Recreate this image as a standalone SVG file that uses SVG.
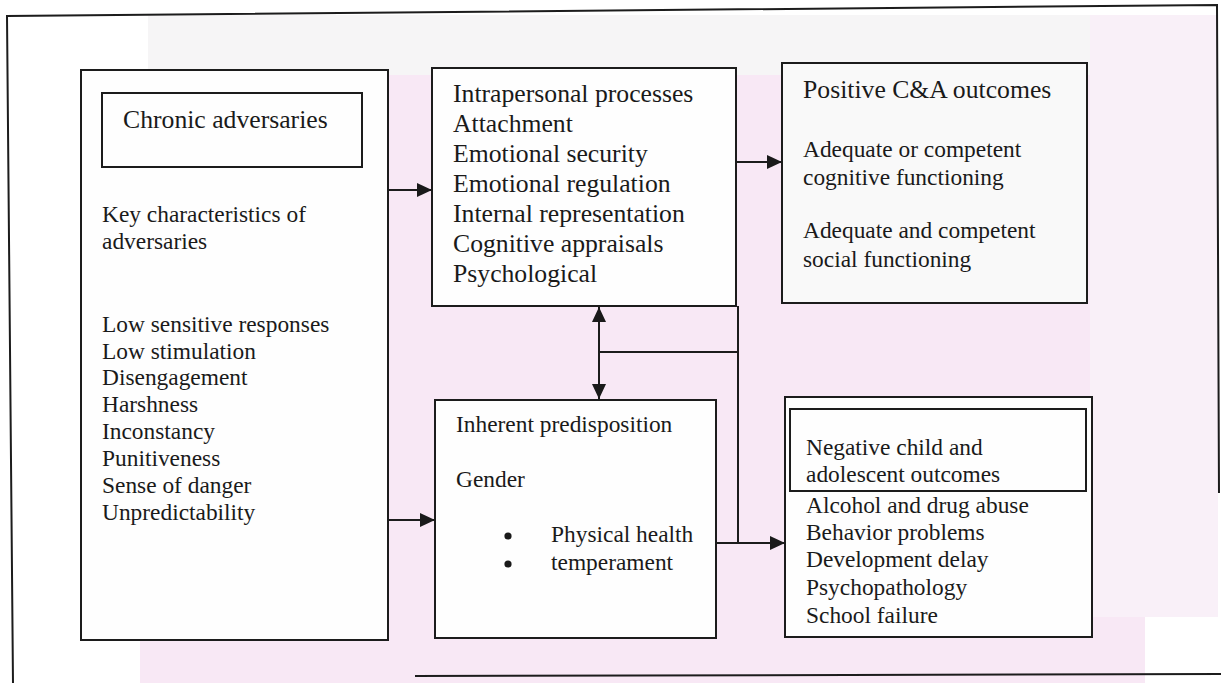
<svg xmlns="http://www.w3.org/2000/svg" width="1221" height="683" viewBox="0 0 1221 683">
<defs>
<marker id="ah" markerUnits="userSpaceOnUse" markerWidth="16" markerHeight="14" refX="15" refY="7" orient="auto-start-reverse">
<path d="M0,0 L15,7 L0,14 z" fill="#1a1a1a"/>
</marker>
</defs>
<style>
.box{fill:#fefefe;stroke:#1c1c1c;stroke-width:2}
.ln{fill:none;stroke:#1c1c1c;stroke-width:2}
text{font-family:"Liberation Serif","Times New Roman",serif;fill:#1a1a1a}
.h{font-size:25.7px}
.t{font-size:23.4px}
</style>
<rect x="0" y="0" width="1221" height="683" fill="#ffffff"/>
<rect x="148" y="15" width="960" height="60" fill="#f6f5f6"/>
<rect x="140" y="75" width="1005" height="608" fill="#f8e8f5"/>
<rect x="1090" y="15" width="128" height="602" fill="#f9f0f8"/>
<g id="frame" class="ln">
<path d="M13,683 L7,16 L1217,5 L1219,493"/>
<path d="M415,676 L1221,674"/>
</g>
<g id="left">
<rect class="box" x="81" y="70" width="307" height="570"/>
<rect class="box" x="102" y="93" width="260" height="74"/>
<text class="h" x="123" y="128">Chronic adversaries</text>
<text class="t" x="102" y="222">Key characteristics of</text>
<text class="t" x="102" y="249">adversaries</text>
<text class="t" x="102" y="332">Low sensitive responses</text>
<text class="t" x="102" y="358.5">Low stimulation</text>
<text class="t" x="102" y="385">Disengagement</text>
<text class="t" x="102" y="412">Harshness</text>
<text class="t" x="102" y="439">Inconstancy</text>
<text class="t" x="102" y="466">Punitiveness</text>
<text class="t" x="102" y="493">Sense of danger</text>
<text class="t" x="102" y="520">Unpredictability</text>
</g>
<g id="intrapersonal">
<rect class="box" x="432" y="68" width="304" height="238"/>
<text class="h" x="453" y="102">Intrapersonal processes</text>
<text class="h" x="453" y="132">Attachment</text>
<text class="h" x="453" y="162">Emotional security</text>
<text class="h" x="453" y="192">Emotional regulation</text>
<text class="h" x="453" y="222">Internal representation</text>
<text class="h" x="453" y="252">Cognitive appraisals</text>
<text class="h" x="453" y="282">Psychological</text>
</g>
<g id="positive">
<rect class="box" x="782" y="63" width="305" height="240" style="fill:#f9f9f9"/>
<text class="h" x="803" y="98">Positive C&amp;A outcomes</text>
<text class="t" x="803" y="157">Adequate or competent</text>
<text class="t" x="803" y="185">cognitive functioning</text>
<text class="t" x="803" y="238">Adequate and competent</text>
<text class="t" x="803" y="267">social functioning</text>
</g>
<g id="inherent">
<rect class="box" x="435" y="400" width="281" height="238"/>
<text class="t" x="456" y="432">Inherent predisposition</text>
<text class="t" x="456" y="487">Gender</text>
<circle cx="508" cy="536" r="3.6" fill="#1a1a1a"/>
<circle cx="508" cy="564" r="3.6" fill="#1a1a1a"/>
<text class="t" x="551" y="542">Physical health</text>
<text class="t" x="551" y="570">temperament</text>
</g>
<g id="negative">
<rect class="box" x="785" y="397" width="307" height="240"/>
<rect class="box" x="790" y="409" width="296" height="82"/>
<text class="t" x="806" y="455">Negative child and</text>
<text class="t" x="806" y="482">adolescent outcomes</text>
<text class="t" x="806" y="513">Alcohol and drug abuse</text>
<text class="t" x="806" y="540">Behavior problems</text>
<text class="t" x="806" y="567">Development delay</text>
<text class="t" x="806" y="595">Psychopathology</text>
<text class="t" x="806" y="623">School failure</text>
</g>
<g id="connectors" class="ln">
<line x1="388" y1="190" x2="432" y2="190" marker-end="url(#ah)"/>
<line x1="388" y1="520" x2="435" y2="520" marker-end="url(#ah)"/>
<line x1="736" y1="162" x2="782" y2="162" marker-end="url(#ah)"/>
<line x1="599" y1="307" x2="599" y2="399" marker-start="url(#ah)" marker-end="url(#ah)"/>
<line x1="599" y1="352" x2="738" y2="352"/>
<line x1="738" y1="306" x2="738" y2="543"/>
<line x1="716" y1="543" x2="785" y2="543" marker-end="url(#ah)"/>
</g>
</svg>
